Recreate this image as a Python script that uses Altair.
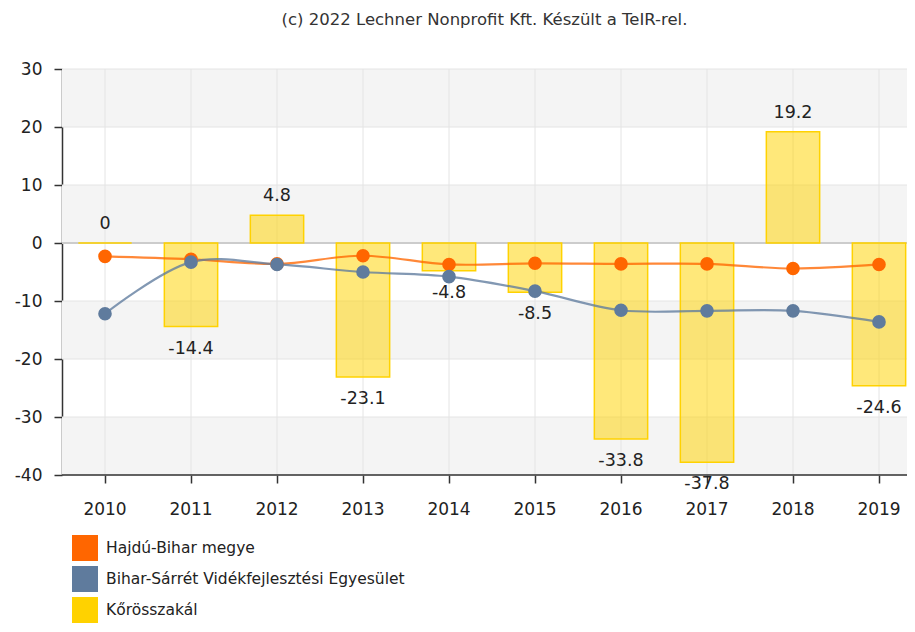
import altair as alt
import pandas as pd

# ---- data ----
years = ["2010", "2011", "2012", "2013", "2014", "2015", "2016", "2017", "2018", "2019"]
series_names = ["Hajdú-Bihar megye", "Bihar-Sárrét Vidékfejlesztési Egyesület", "Kőrösszakál"]
series_colors = ["#FF6600", "#5F7B9D", "#FFD200"]
hajdu = [-2.3, -2.8, -3.6, -2.2, -3.7, -3.5, -3.6, -3.6, -4.4, -3.7]
bihar = [-12.2, -3.3, -3.7, -5.0, -5.8, -8.3, -11.6, -11.7, -11.7, -13.6]
korosszakal = [0, -14.4, 4.8, -23.1, -4.8, -8.5, -33.8, -37.8, 19.2, -24.6]
y_ticks = [-40, -30, -20, -10, 0, 10, 20, 30]
title_text = "(c) 2022 Lechner Nonprofit Kft. Készült a TeIR-rel."

rows = []
for name, vals in zip(series_names, [hajdu, bihar, korosszakal]):
    for y, v in zip(years, vals):
        rows.append({"series": name, "year": y, "value": v})
df = pd.DataFrame(rows)
bars_df = df[df.series == series_names[2]]
lines_df = df[df.series != series_names[2]]

# alternating background stripes built from the tick list
stripes = pd.DataFrame(
    [{"lo": y_ticks[i], "hi": y_ticks[i + 1]} for i in range(0, len(y_ticks) - 1, 2)]
)
ticks_df = pd.DataFrame({"t": y_ticks})
years_df = pd.DataFrame({"year": years})

W = 845
H = 406
FONT = "DejaVu Sans"

xscale = alt.Scale(domain=years, range=[0, 860], paddingInner=0.38, paddingOuter=0.19)
yscale = alt.Scale(domain=[-40, 30], nice=False, zero=False)
cscale = alt.Scale(domain=series_names, range=series_colors)

x_enc = alt.X(
    "year:O", scale=xscale,
    axis=alt.Axis(title=None, labelAngle=0, grid=False, domain=False, tickSize=8,
                  labelPadding=18, tickColor="#333333", tickWidth=1.5,
                  labelFont=FONT, labelFontSize=17, labelColor="#222222"),
)
y_axis = alt.Axis(title=None, values=y_ticks, grid=False, tickSize=8, labelPadding=12,
                  domainColor="#333333", domainWidth=1.5, tickColor="#333333", tickWidth=1.5,
                  labelExpr="'' + datum.value",
                  labelFont=FONT, labelFontSize=17, labelColor="#222222")

stripe_layer = alt.Chart(stripes).mark_rect(color="#F4F4F4").encode(
    y=alt.Y("lo:Q", scale=yscale, axis=y_axis),
    y2="hi:Q",
    x=alt.value(0),
    x2=alt.value(W),
)

hgrid = alt.Chart(ticks_df).mark_rule(color="#E4E4E4", strokeWidth=1).encode(
    y=alt.Y("t:Q", scale=yscale),
    x=alt.value(0),
    x2=alt.value(W),
)
vgrid = alt.Chart(years_df).mark_rule(color="#E4E4E4", strokeWidth=1).encode(
    x=x_enc,
)
zero_rule = alt.Chart(ticks_df).transform_filter("datum.t == 0").mark_rule(
    color="#CCCCCC", strokeWidth=2
).encode(y=alt.Y("t:Q", scale=yscale), x=alt.value(0), x2=alt.value(W))

x_axis_line = alt.Chart(ticks_df).transform_filter("datum.t == -40").mark_rule(
    color="#333333", strokeWidth=1.5
).encode(y=alt.Y("t:Q", scale=yscale), x=alt.value(0), x2=alt.value(W))

legend = alt.Legend(
    title=None, orient="none", legendX=10, legendY=466, direction="vertical",
    symbolType="square", symbolSize=676, symbolStrokeWidth=0, symbolOpacity=1,
    labelFont=FONT, labelFontSize=15.5, labelColor="#222222", labelOffset=8,
    rowPadding=5, labelLimit=0,
)

bars = alt.Chart(bars_df).mark_bar(
    fillOpacity=0.52, stroke="#FFD200", strokeWidth=1.5
).encode(
    x=x_enc,
    y=alt.Y("value:Q", scale=yscale),
    color=alt.Color("series:N", scale=cscale, legend=legend),
)

lines = alt.Chart(lines_df).mark_line(
    interpolate="catmull-rom", strokeWidth=2.2, strokeOpacity=0.78
).encode(
    x=x_enc,
    y=alt.Y("value:Q", scale=yscale),
    color=alt.Color("series:N", scale=cscale, legend=legend),
    detail="series:N",
)

points = alt.Chart(lines_df).mark_circle(size=185, opacity=1).encode(
    x=x_enc,
    y=alt.Y("value:Q", scale=yscale),
    color=alt.Color("series:N", scale=cscale, legend=legend),
)

label_calc = {"label": "'' + datum.value"}
text_pos = alt.Chart(bars_df).transform_filter("datum.value >= 0").transform_calculate(
    **label_calc
).mark_text(
    dy=-19, font=FONT, fontSize=17.5, color="#222222", baseline="middle"
).encode(x=x_enc, y=alt.Y("value:Q", scale=yscale), text="label:N")

text_neg = alt.Chart(bars_df).transform_filter("datum.value < 0").transform_calculate(
    **label_calc
).mark_text(
    dy=22, font=FONT, fontSize=17.5, color="#222222", baseline="middle"
).encode(x=x_enc, y=alt.Y("value:Q", scale=yscale), text="label:N")

chart = alt.layer(
    stripe_layer, hgrid, vgrid, zero_rule, x_axis_line, bars, lines, points, text_pos, text_neg
).properties(
    width=W, height=H,
    autosize=alt.AutoSizeParams(type="none"),
    padding={"left": 54, "top": 61, "right": 0, "bottom": 149},
    title=alt.TitleParams(title_text, font=FONT, fontSize=16.5,
                          fontWeight="normal", color="#333333", offset=32, anchor="middle"),
).configure_view(stroke=None)

chart.save("out.html", embed_options={"renderer": "svg", "actions": False})
